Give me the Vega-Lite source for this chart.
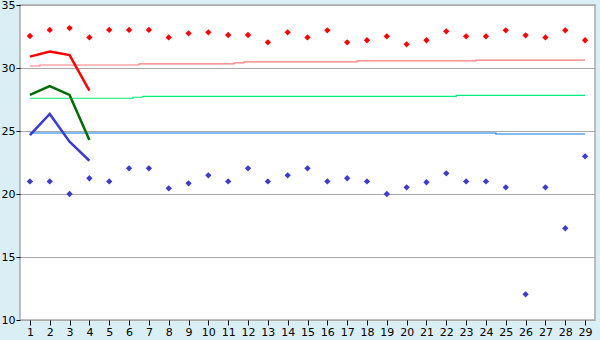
{
  "$schema": "https://vega.github.io/schema/vega-lite/v6.json",
  "width": 575,
  "height": 315,
  "autosize": {"type": "none"},
  "padding": {"left": 20, "top": 5, "right": 5, "bottom": 20},
  "background": "#daeef5",
  "config": {
    "view": {"stroke": "#aaaaaa", "strokeWidth": 1.5, "fill": "white"},
    "axis": {"labelFont": "DejaVu Sans", "labelFontSize": 11, "labelColor": "black", "domainColor": "#aaaaaa", "domainWidth": 2, "tickColor": "black", "title": null}
  },
  "datasets": {
    "pts": [
      {"day": 1, "s": "max", "v": 32.54}, {"day": 2, "s": "max", "v": 33.02}, {"day": 3, "s": "max", "v": 33.17}, {"day": 4, "s": "max", "v": 32.43},
      {"day": 5, "s": "max", "v": 33.02}, {"day": 6, "s": "max", "v": 33.02}, {"day": 7, "s": "max", "v": 33.02}, {"day": 8, "s": "max", "v": 32.43},
      {"day": 9, "s": "max", "v": 32.75}, {"day": 10, "s": "max", "v": 32.83}, {"day": 11, "s": "max", "v": 32.62}, {"day": 12, "s": "max", "v": 32.62},
      {"day": 13, "s": "max", "v": 32.04}, {"day": 14, "s": "max", "v": 32.83}, {"day": 15, "s": "max", "v": 32.43}, {"day": 16, "s": "max", "v": 32.99},
      {"day": 17, "s": "max", "v": 32.04}, {"day": 18, "s": "max", "v": 32.2}, {"day": 19, "s": "max", "v": 32.51}, {"day": 20, "s": "max", "v": 31.88},
      {"day": 21, "s": "max", "v": 32.2}, {"day": 22, "s": "max", "v": 32.91}, {"day": 23, "s": "max", "v": 32.51}, {"day": 24, "s": "max", "v": 32.51},
      {"day": 25, "s": "max", "v": 32.99}, {"day": 26, "s": "max", "v": 32.59}, {"day": 27, "s": "max", "v": 32.43}, {"day": 28, "s": "max", "v": 32.99},
      {"day": 29, "s": "max", "v": 32.2},
      {"day": 1, "s": "min", "v": 21.0}, {"day": 2, "s": "min", "v": 21.0}, {"day": 3, "s": "min", "v": 20.0}, {"day": 4, "s": "min", "v": 21.25},
      {"day": 5, "s": "min", "v": 21.0}, {"day": 6, "s": "min", "v": 22.04}, {"day": 7, "s": "min", "v": 22.04}, {"day": 8, "s": "min", "v": 20.45},
      {"day": 9, "s": "min", "v": 20.85}, {"day": 10, "s": "min", "v": 21.48}, {"day": 11, "s": "min", "v": 21.0}, {"day": 12, "s": "min", "v": 22.04},
      {"day": 13, "s": "min", "v": 21.0}, {"day": 14, "s": "min", "v": 21.48}, {"day": 15, "s": "min", "v": 22.04}, {"day": 16, "s": "min", "v": 21.0},
      {"day": 17, "s": "min", "v": 21.25}, {"day": 18, "s": "min", "v": 21.0}, {"day": 19, "s": "min", "v": 20.0}, {"day": 20, "s": "min", "v": 20.53},
      {"day": 21, "s": "min", "v": 20.93}, {"day": 22, "s": "min", "v": 21.64}, {"day": 23, "s": "min", "v": 21.0}, {"day": 24, "s": "min", "v": 21.0},
      {"day": 25, "s": "min", "v": 20.53}, {"day": 26, "s": "min", "v": 12.04}, {"day": 27, "s": "min", "v": 20.53}, {"day": 28, "s": "min", "v": 17.28},
      {"day": 29, "s": "min", "v": 22.99}
    ],
    "flat": [
      {"day": 1, "s": "pmax", "v": 30.16}, {"day": 1.5, "s": "pmax", "v": 30.16}, {"day": 1.5, "s": "pmax", "v": 30.24}, {"day": 6.5, "s": "pmax", "v": 30.24},
      {"day": 6.5, "s": "pmax", "v": 30.32}, {"day": 11.3, "s": "pmax", "v": 30.32}, {"day": 11.3, "s": "pmax", "v": 30.4}, {"day": 11.8, "s": "pmax", "v": 30.4},
      {"day": 11.8, "s": "pmax", "v": 30.48}, {"day": 17.5, "s": "pmax", "v": 30.48}, {"day": 17.5, "s": "pmax", "v": 30.56}, {"day": 23.5, "s": "pmax", "v": 30.56},
      {"day": 23.5, "s": "pmax", "v": 30.63}, {"day": 29, "s": "pmax", "v": 30.63},
      {"day": 1, "s": "pmean", "v": 27.6}, {"day": 6.2, "s": "pmean", "v": 27.6}, {"day": 6.2, "s": "pmean", "v": 27.68}, {"day": 6.7, "s": "pmean", "v": 27.68},
      {"day": 6.7, "s": "pmean", "v": 27.75}, {"day": 22.5, "s": "pmean", "v": 27.75}, {"day": 22.5, "s": "pmean", "v": 27.83}, {"day": 29, "s": "pmean", "v": 27.83},
      {"day": 1, "s": "pmin", "v": 24.84}, {"day": 24.5, "s": "pmin", "v": 24.84}, {"day": 24.5, "s": "pmin", "v": 24.76}, {"day": 29, "s": "pmin", "v": 24.76}
    ],
    "cur": [
      {"day": 1, "s": "cmax", "v": 30.9}, {"day": 2, "s": "cmax", "v": 31.3}, {"day": 3, "s": "cmax", "v": 31.03}, {"day": 4, "s": "cmax", "v": 28.2},
      {"day": 1, "s": "cmean", "v": 27.86}, {"day": 2, "s": "cmean", "v": 28.57}, {"day": 3, "s": "cmean", "v": 27.86}, {"day": 4, "s": "cmean", "v": 24.29},
      {"day": 1, "s": "cmin", "v": 24.68}, {"day": 2, "s": "cmin", "v": 26.35}, {"day": 3, "s": "cmin", "v": 24.15}, {"day": 4, "s": "cmin", "v": 22.64}
    ]
  },
  "encoding": {
    "x": {"field": "day", "type": "quantitative", "scale": {"domain": [0.5, 29.5], "nice": false, "zero": false},
      "axis": {"values": [1,2,3,4,5,6,7,8,9,10,11,12,13,14,15,16,17,18,19,20,21,22,23,24,25,26,27,28,29], "grid": false, "tickSize": 5, "labelPadding": 1, "domain": false}},
    "y": {"field": "v", "type": "quantitative", "scale": {"domain": [10, 35], "nice": false, "zero": false},
      "axis": {"values": [10, 15, 20, 25, 30, 35], "grid": true, "gridColor": "#aaaaaa", "gridWidth": 1.2, "gridOpacity": 1, "tickSize": 4, "labelPadding": 1, "domain": false}}
  },
  "layer": [
    {
      "data": {"name": "flat"},
      "mark": {"type": "line", "strokeWidth": 1.2},
      "encoding": {
        "color": {"field": "s", "type": "nominal", "legend": null, "scale": {"domain": ["pmax", "pmean", "pmin"], "range": ["#ff7a7a", "#00ee77", "#0a78e8"]}}
      }
    },
    {
      "data": {"name": "cur"},
      "mark": {"type": "line"},
      "encoding": {
        "color": {"field": "s", "type": "nominal", "legend": null, "scale": {"domain": ["cmax", "cmean", "cmin"], "range": ["#ff0000", "#006b00", "#3b3bd0"]}},
        "strokeWidth": {"field": "s", "type": "nominal", "legend": null, "scale": {"domain": ["cmax", "cmean", "cmin"], "range": [2.5, 2.5, 1.7]}}
      }
    },
    {
      "data": {"name": "pts"},
      "mark": {"type": "point", "shape": "diamond", "filled": true, "size": 40, "opacity": 1},
      "encoding": {
        "color": {"field": "s", "type": "nominal", "legend": null, "scale": {"domain": ["max", "min"], "range": ["#ff0000", "#3b3bd0"]}}
      }
    }
  ],
  "resolve": {"scale": {"color": "independent", "strokeWidth": "independent"}}
}
